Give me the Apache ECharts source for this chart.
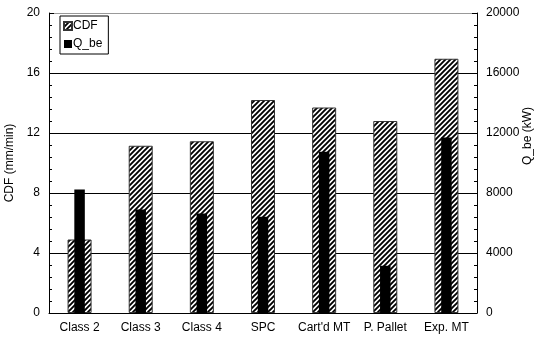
<!DOCTYPE html>
<html>
<head>
<meta charset="utf-8">
<script src="https://cdn.jsdelivr.net/npm/echarts@6/dist/echarts.min.js"></script>
<style>
  html, body { margin: 0; padding: 0; background: #fff; }
  #chart { width: 539px; height: 340px; }
</style>
</head>
<body>
<div id="chart"></div>
<script>
// Categories and measured values
const categories = ['Class 2', 'Class 3', 'Class 4', 'SPC', "Cart'd MT", 'P. Pallet', 'Exp. MT'];
const cdfValues = [4.9, 11.15, 11.45, 14.2, 13.7, 12.8, 16.95];      // mm/min
const qbeValues = [8240, 6900, 6640, 6420, 10750, 3150, 11700];      // kW
const cdfTicks = { min: 0, max: 20, interval: 4 };
const qbeTicks = { min: 0, max: 20000, interval: 4000 };

// Diagonal black/white hatch used for the CDF bars
function makeHatch(period, lineWidth) {
  const c = document.createElement('canvas');
  c.width = period; c.height = period;
  const g = c.getContext('2d');
  g.fillStyle = '#fff';
  g.fillRect(0, 0, period, period);
  g.strokeStyle = '#000';
  g.lineWidth = lineWidth;
  g.beginPath();
  g.moveTo(-1, period + 1); g.lineTo(period + 1, -1);
  g.moveTo(-period / 2 - 1, period / 2 + 1); g.lineTo(period / 2 + 1, -period / 2 - 1);
  g.moveTo(period / 2 - 1, period * 1.5 + 1); g.lineTo(period * 1.5 + 1, period / 2 - 1);
  g.stroke();
  return c;
}
const hatch = { image: makeHatch(5, 1.9), repeat: 'repeat' };

const font = 'Liberation Sans, Arial, sans-serif';
const chart = echarts.init(document.getElementById('chart'), null, { renderer: 'canvas' });

chart.setOption({
  animation: false,
  backgroundColor: '#fff',
  textStyle: { fontFamily: font, color: '#000' },
  grid: { left: 49, right: 62, top: 13, bottom: 27, show: false, containLabel: false, outerBoundsMode: 'none' },
  legend: {
    orient: 'vertical',
    left: 60, top: 16,
    icon: 'rect',
    itemWidth: 8, itemHeight: 8,
    itemGap: 6,
    padding: [4, 6, 4, 3],
    borderColor: '#000', borderWidth: 1,
    textStyle: { fontFamily: font, fontSize: 12, color: '#000', padding: [0, 0, 0, -4] },
    data: ['CDF', 'Q_be']
  },
  xAxis: [
    {
      type: 'category', data: categories, gridIndex: 0,
      axisLine: { lineStyle: { color: '#000', width: 1 } },
      axisTick: { show: false },
      axisLabel: { fontFamily: font, fontSize: 12, color: '#000', margin: 9, interval: 0 }
    },
    {
      type: 'category', data: categories, gridIndex: 0, position: 'bottom', show: false
    }
  ],
  yAxis: [
    {
      type: 'value', min: cdfTicks.min, max: cdfTicks.max, interval: cdfTicks.interval,
      name: 'CDF (mm/min)', nameLocation: 'middle', nameGap: 32,
      nameTextStyle: { fontFamily: font, fontSize: 12, color: '#000' },
      axisLine: { show: true, lineStyle: { color: '#000', width: 1 } },
      axisTick: { show: true, inside: true, length: 5, lineStyle: { color: '#000' } },
      minorTick: { show: true, splitNumber: 5, length: 3, lineStyle: { color: '#000' } },
      axisLabel: { fontFamily: font, fontSize: 12, color: '#000', margin: 9 },
      splitLine: { show: true, lineStyle: { color: ['#000', '#000', '#000', '#000', '#000', '#999'], width: 1 } }
    },
    {
      type: 'value', min: qbeTicks.min, max: qbeTicks.max, interval: qbeTicks.interval,
      position: 'right',
      axisLine: { show: true, lineStyle: { color: '#000', width: 1 } },
      axisTick: { show: true, inside: true, length: 5, lineStyle: { color: '#000' } },
      minorTick: { show: true, splitNumber: 5, length: 3, lineStyle: { color: '#000' } },
      axisLabel: { fontFamily: font, fontSize: 12, color: '#000', margin: 9, formatter: v => String(v) },
      splitLine: { show: false }
    }
  ],
  graphic: [
    {
      type: 'text', x: 528, y: 136, rotation: Math.PI / 2,
      style: { text: 'Q_be (kW)', font: '12px ' + font, fill: '#000', align: 'center', verticalAlign: 'middle' }
    }
  ],
  series: [
    {
      name: 'CDF', type: 'bar', xAxisIndex: 0, yAxisIndex: 0,
      data: cdfValues, barWidth: 24,
      itemStyle: { color: hatch, borderColor: '#333', borderWidth: 1 },
      emphasis: { disabled: true }
    },
    {
      name: 'Q_be', type: 'bar', xAxisIndex: 1, yAxisIndex: 1,
      data: qbeValues, barWidth: 10.5,
      itemStyle: { color: '#000' },
      emphasis: { disabled: true }
    }
  ]
});
</script>
</body>
</html>
